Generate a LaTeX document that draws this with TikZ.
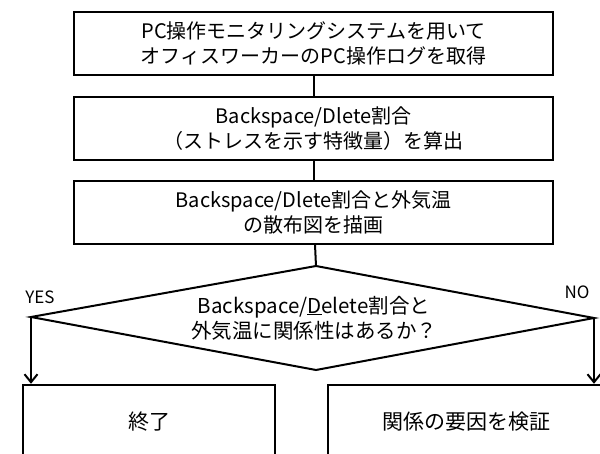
\documentclass[tikz,border=0pt]{standalone}
\usepackage{fontspec}
\setmainfont{Noto Sans CJK JP}
\usetikzlibrary{arrows.meta}
\tikzset{
  stepbox/.style={draw=black, line width=2.4pt, rectangle, minimum width=479pt, minimum height=63pt, align=center, inner sep=0pt, font=\fontsize{20}{25}\selectfont},
  endbox/.style={draw=black, line width=2.4pt, rectangle, minimum height=74pt, align=center, inner sep=0pt, font=\fontsize{21}{25}\selectfont},
  link/.style={draw=black, line width=2pt},
  arr/.style={draw=black, line width=2pt, -{Straight Barb[length=8pt,width=13pt,line width=2pt]}},
  lbl/.style={font=\fontsize{17}{20}\selectfont, inner sep=0pt},
  dtext/.style={align=center, inner sep=0pt, font=\fontsize{20.5}{25}\selectfont}
}
\begin{document}
\begin{tikzpicture}[x=1pt,y=-1pt]
\clip (0,0) rectangle (600,454);
\fill[white] (0,0) rectangle (600,454);
\node[stepbox] (b1) at (313.5,43.5) {PC操作モニタリングシステムを用いて\\オフィスワーカーのPC操作ログを取得};
\node[stepbox] (b2) at (313.5,128.5) {Backspace/Dlete割合\\（ストレスを示す特徴量）を算出};
\node[stepbox] (b3) at (313.5,212.5) {Backspace/Dlete割合と外気温\\の散布図を描画};
\coordinate (dt) at (316,266);
\coordinate (dr) at (594,318);
\coordinate (db) at (316,370);
\coordinate (dl) at (31,317);
\draw[link, line join=miter] (dt) -- (dr) -- (db) -- (dl) -- cycle;
\node[dtext] (dq) at (314,318) {Backspace/\underline{D}elete割合と\\外気温に関係性はあるか？};
\node[endbox, minimum width=252pt] (lb) at (149,422) {終了};
\node[endbox, minimum width=276pt] (rb) at (466,422) {関係の要因を検証};
\draw[link] (b1) -- (b2);
\draw[link] (b2) -- (b3);
\draw[link] (b3) -- (dt);
\draw[arr] (dl) -- (dl |- lb.north);
\draw[arr] (dr) -- (dr |- rb.north);
\node[lbl] (yes) at (40,297) {YES};
\node[lbl] (no) at (577,292) {NO};
\end{tikzpicture}
\end{document}
